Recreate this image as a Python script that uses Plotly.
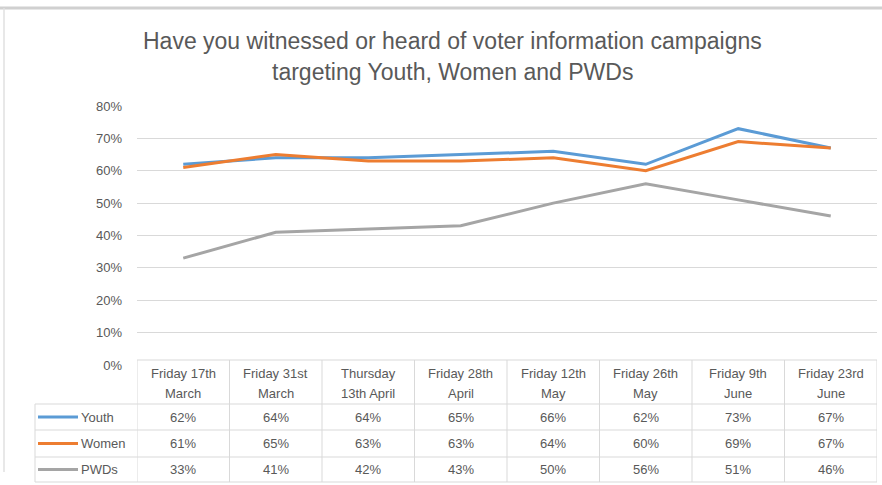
import plotly.graph_objects as go

# Survey dates (table header text, two lines each)
dates = [
    ["Friday 17th", "March"],
    ["Friday 31st", "March"],
    ["Thursday", "13th April"],
    ["Friday 28th", "April"],
    ["Friday 12th", "May"],
    ["Friday 26th", "May"],
    ["Friday 9th", "June"],
    ["Friday 23rd", "June"],
]

# Share of respondents (%) per group
youth = [62, 64, 64, 65, 66, 62, 73, 67]
women = [61, 65, 63, 63, 64, 60, 69, 67]
pwds = [33, 41, 42, 43, 50, 56, 51, 46]

series_names = ["Youth", "Women", "PWDs"]
series_values = [youth, women, pwds]
series_colors = ["#5B9BD5", "#ED7D31", "#A5A5A5"]

y_ticks = [0, 10, 20, 30, 40, 50, 60, 70, 80]
y_tick_text = [f"{v}%" for v in y_ticks]

W, H = 882, 485
M_L, M_R, M_T, M_B = 137, 5, 106, 120
PLOT_H = H - M_T - M_B
TEXT = "#595959"
GRID = "#D9D9D9"
FONT = "Liberation Sans"
TABLE_SIZE = 13


def py(ypix):
    """Convert a page pixel row into paper coordinates."""
    return (H - M_B - ypix) / PLOT_H


def px(xpix):
    return (xpix - M_L) / (W - M_L - M_R)


xs = list(range(len(dates)))

fig = go.Figure()
for name, vals, col in zip(series_names, series_values, series_colors):
    fig.add_trace(go.Scatter(
        x=xs, y=vals, mode="lines", name=name,
        line=dict(color=col, width=3),
        showlegend=False,
    ))

shapes = []
annotations = []

# Data table under the plot
row_tops = [360, 404, 430, 457, 482]
n = len(dates)
# horizontal lines
for i, yp in enumerate(row_tops):
    shapes.append(dict(
        type="line", xref="paper", yref="paper",
        x0=px(35) if i > 0 else 0, x1=1, y0=py(yp), y1=py(yp),
        line=dict(color=GRID, width=1),
    ))
# vertical lines at category boundaries
for k in range(n + 1):
    shapes.append(dict(
        type="line", xref="x", yref="paper",
        x0=k - 0.5, x1=k - 0.5, y0=py(row_tops[0]), y1=py(row_tops[-1]),
        line=dict(color=GRID, width=1),
    ))
# left edge of the legend column
shapes.append(dict(
    type="line", xref="paper", yref="paper",
    x0=px(35), x1=px(35), y0=py(row_tops[1]), y1=py(row_tops[-1]),
    line=dict(color=GRID, width=1),
))

# header text, two lines per date
for k, (l1, l2) in enumerate(dates):
    for line_text, yline in ((l1, 373), (l2, 393)):
        annotations.append(dict(
            x=k, y=py(yline), xref="x", yref="paper",
            text=line_text, showarrow=False,
            font=dict(size=TABLE_SIZE, color=TEXT, family=FONT),
            xanchor="center", yanchor="middle",
        ))

# value rows with legend keys
for r, (name, vals, col) in enumerate(zip(series_names, series_values, series_colors)):
    yc = py((row_tops[r + 1] + row_tops[r + 2]) / 2)
    shapes.append(dict(
        type="line", xref="paper", yref="paper",
        x0=px(38), x1=px(78), y0=yc, y1=yc,
        line=dict(color=col, width=3),
    ))
    annotations.append(dict(
        x=px(79), y=yc, xref="paper", yref="paper", text=name,
        showarrow=False, xanchor="left", yanchor="middle",
        font=dict(size=TABLE_SIZE, color=TEXT, family=FONT),
    ))
    for k, v in enumerate(vals):
        annotations.append(dict(
            x=k, y=yc, xref="x", yref="paper", text=f"{v}%",
            showarrow=False, xanchor="center", yanchor="middle",
            font=dict(size=TABLE_SIZE, color=TEXT, family=FONT),
        ))

# outer frame of the chart box
shapes.append(dict(type="line", xref="paper", yref="paper",
                   x0=px(0), x1=px(W), y0=py(8), y1=py(8),
                   line=dict(color="#D0D0D0", width=3)))
shapes.append(dict(type="line", xref="paper", yref="paper",
                   x0=px(4), x1=px(4), y0=py(8), y1=py(472),
                   line=dict(color="#E0E0E0", width=1.5)))

# title
annotations.append(dict(
    x=px(452), y=py(41), xref="paper", yref="paper",
    text="Have you witnessed or heard of voter information campaigns",
    showarrow=False, xanchor="center", yanchor="middle",
    font=dict(size=23, color=TEXT, family=FONT),
))
annotations.append(dict(
    x=px(452), y=py(72), xref="paper", yref="paper",
    text="targeting Youth, Women and PWDs",
    showarrow=False, xanchor="center", yanchor="middle",
    font=dict(size=23, color=TEXT, family=FONT),
))

fig.update_layout(
    width=W, height=H,
    margin=dict(l=M_L, r=M_R, t=M_T, b=M_B),
    paper_bgcolor="white", plot_bgcolor="white",
    xaxis=dict(range=[-0.5, n - 0.5], showticklabels=False, showgrid=False,
               zeroline=False, showline=False, fixedrange=True),
    yaxis=dict(range=[0, 80], tickvals=y_ticks, ticktext=y_tick_text,
               showgrid=True, gridcolor=GRID, gridwidth=1, zeroline=False,
               tickfont=dict(size=13, color=TEXT, family=FONT),
               ticks="", ticklabelstandoff=14, fixedrange=True),
    shapes=shapes,
    annotations=annotations,
)

fig.write_html("out.html")
